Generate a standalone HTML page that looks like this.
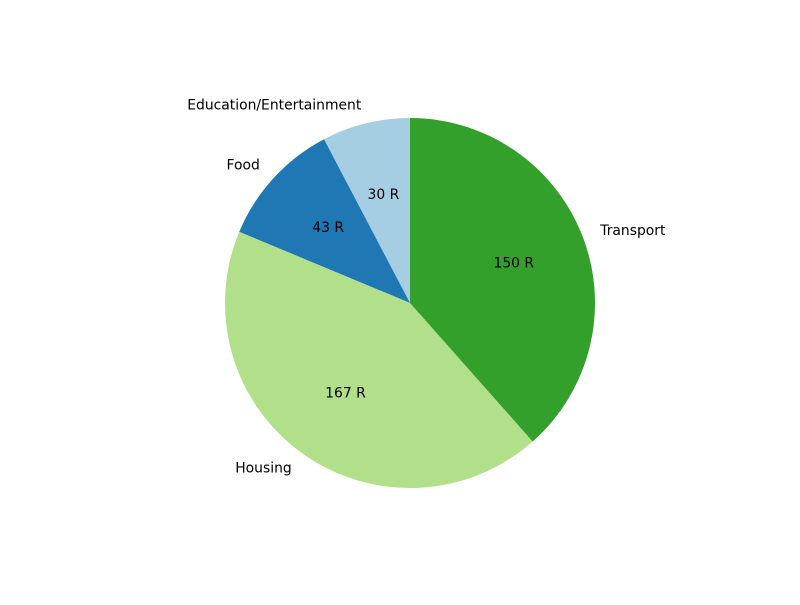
<!DOCTYPE html>
<html><head><meta charset="utf-8"><style>
body{margin:0;background:#fff;}
svg text{font-family:"DejaVu Sans","Liberation Sans",sans-serif;font-size:13.9px;fill:#000;}
</style></head><body>
<svg id="chart" width="800" height="600"></svg>
<script>
const categories = ["Education/Entertainment", "Food", "Housing", "Transport"];
const values = [30, 43, 167, 150];
const valueLabels = ["30 R", "43 R", "167 R", "150 R"];
const colors = ["#a6cee3", "#1f78b4", "#b2df8a", "#33a02c"];
const svg = document.getElementById('chart');
const NS = 'http://www.w3.org/2000/svg';
const cx = 410, cy = 303, r = 185;
const total = values.reduce((a, b) => a + b, 0);
function pt(deg, rad) { const a = deg * Math.PI / 180; return [cx + rad * Math.cos(a), cy - rad * Math.sin(a)]; }
let start = 90;
values.forEach((v, i) => {
  const sweep = v / total * 360;
  const end = start + sweep;
  const [x1, y1] = pt(start, r), [x2, y2] = pt(end, r);
  const large = sweep > 180 ? 1 : 0;
  const p = document.createElementNS(NS, 'path');
  p.setAttribute('d', `M${cx},${cy} L${x1},${y1} A${r},${r} 0 ${large} 0 ${x2},${y2} Z`);
  p.setAttribute('fill', colors[i]);
  
  
  svg.appendChild(p);
  const mid = start + sweep / 2;
  const [lx, ly] = pt(mid, r * 1.1);
  const t = document.createElementNS(NS, 'text');
  t.setAttribute('x', lx); t.setAttribute('y', ly);
  t.setAttribute('dominant-baseline', 'middle');
  t.setAttribute('text-anchor', Math.cos(mid * Math.PI / 180) >= 0 ? 'start' : 'end');
  t.textContent = categories[i];
  
  
  svg.appendChild(t);
  const [px, py] = pt(mid, r * 0.6);
  const t2 = document.createElementNS(NS, 'text');
  t2.setAttribute('x', px); t2.setAttribute('y', py);
  t2.setAttribute('dominant-baseline', 'middle');
  t2.setAttribute('text-anchor', 'middle');
  t2.textContent = valueLabels[i];
  
  
  svg.appendChild(t2);
  start = end;
});
</script>
</body></html>
